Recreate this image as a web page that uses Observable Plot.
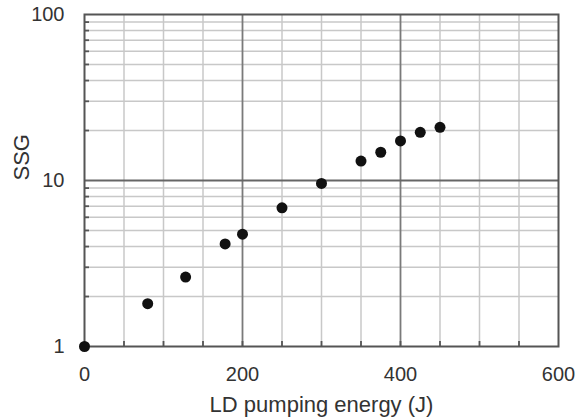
<!DOCTYPE html>
<html>
<head>
<meta charset="utf-8">
<script src="https://cdn.jsdelivr.net/npm/d3@7"></script>
<script src="https://cdn.jsdelivr.net/npm/@observablehq/plot@0.6"></script>
<style>
  html, body { margin: 0; padding: 0; background: #fff; }
</style>
</head>
<body>
<div id="chart"></div>
<script>
// Data
const energy = [0, 80, 128, 178, 200, 250, 300, 350, 375, 400, 425, 450];
const ssg = [1, 1.81, 2.62, 4.15, 4.75, 6.85, 9.6, 13.1, 14.8, 17.3, 19.5, 20.9];

// Tick / grid values
const xTickLabels = [0, 200, 400, 600];
const yTickLabels = [1, 10, 100];
const xGridMinor = [50, 100, 150, 250, 300, 350, 450, 500, 550];
const xGridMajor = [200, 400];
const yGridMinor = [2, 3, 4, 5, 6, 7, 8, 9, 20, 30, 40, 50, 60, 70, 80, 90];
const yGridMajor = [10];
const xTickMarks = [50, 100, 150, 200, 250, 300, 350, 400, 450, 500, 550];

const xLabel = "LD pumping energy (J)";
const yLabel = "SSG";

const points = energy.map((e, i) => ({energy: e, ssg: ssg[i]}));

const W = 583, H = 420;
const mL = 84, mR = 25, mT = 14, mB = 74;
const plotW = W - mL - mR, plotH = H - mT - mB;

const chart = Plot.plot({
  width: W,
  height: H,
  marginLeft: mL,
  marginRight: mR,
  marginTop: mT,
  marginBottom: mB,
  style: {fontFamily: "'Liberation Sans', Arial, sans-serif", color: "#333", background: "#fff"},
  x: {type: "linear", domain: [0, 600]},
  y: {type: "log", domain: [1, 100]},
  marks: [
    Plot.ruleX(xGridMinor, {x: d => d, stroke: "#c8c8c8", strokeWidth: 1.5}),
    Plot.ruleY(yGridMinor, {y: d => d, stroke: "#c8c8c8", strokeWidth: 1.5}),
    Plot.ruleX(xGridMajor, {x: d => d, stroke: "#7a7a7a", strokeWidth: 1.8}),
    Plot.ruleY(yGridMajor, {y: d => d, stroke: "#666", strokeWidth: 2}),
    Plot.tickX(xTickMarks, {x: d => d, stroke: "#555", strokeWidth: 1.8, insetTop: plotH - 5}),
    Plot.tickY(yGridMinor, {y: d => d, stroke: "#555", strokeWidth: 1.8, insetRight: plotW - 5}),
    Plot.frame({stroke: "#555", strokeWidth: 2}),
    Plot.axisX(xTickLabels, {tickSize: 0, tickPadding: 20, fontSize: 20, fill: "#333", label: null}),
    Plot.axisY(yTickLabels, {tickSize: 0, tickPadding: 20, fontSize: 20, fill: "#333", label: null, tickFormat: d => String(d)}),
    Plot.text([xLabel], {frameAnchor: "bottom", dy: 58, text: d => d, fontSize: 22, fill: "#333", lineAnchor: "middle"}),
    Plot.text([yLabel], {frameAnchor: "left", dx: -63, rotate: -90, text: d => d, fontSize: 22, fill: "#333", lineAnchor: "middle"}),
    Plot.dot(points, {x: "energy", y: "ssg", r: 5.5, fill: "#111", stroke: "none"})
  ]
});

document.getElementById("chart").appendChild(chart);
</script>
</body>
</html>
